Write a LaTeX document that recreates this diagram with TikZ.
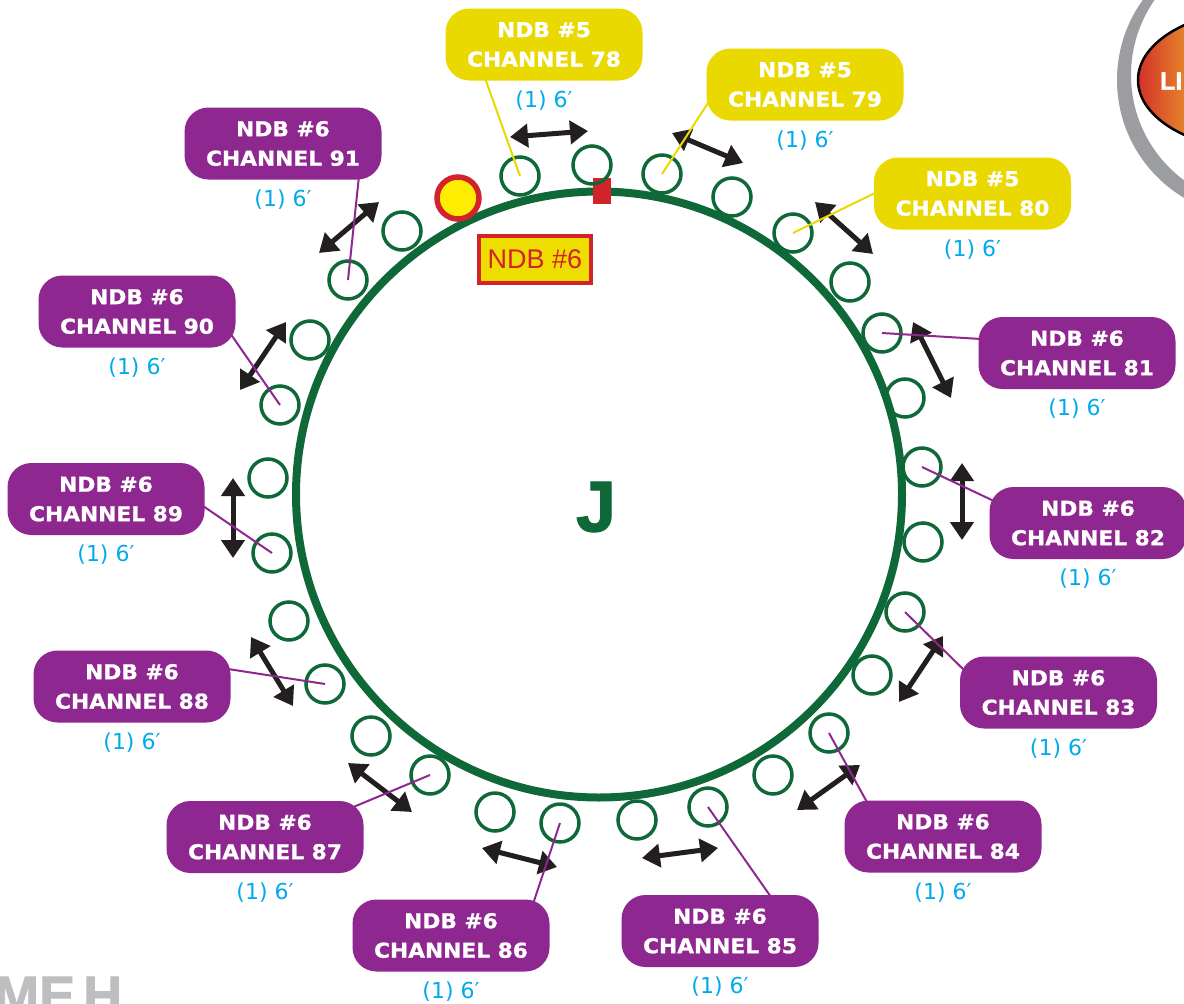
\documentclass[tikz,border=0pt]{standalone}
\usepackage{fontspec}
\setmainfont{DejaVu Sans}
\newfontfamily\lblfont[FakeStretch=1.06,FakeBold=1]{DejaVu Sans}
\newfontfamily\libsans{Liberation Sans}
\newfontfamily\heavysans[FakeBold=1.5]{Liberation Sans}
\usetikzlibrary{arrows.meta}
\definecolor{ndbpurple}{RGB}{142,39,143}
\definecolor{ndbyellow}{RGB}{233,217,0}
\definecolor{lenblue}{RGB}{0,170,235}
\definecolor{ringgreen}{RGB}{14,104,55}
\definecolor{ndbred}{RGB}{210,35,42}
\definecolor{dotyellow}{RGB}{255,237,0}
\definecolor{boxyellow}{RGB}{238,222,0}
\definecolor{arrowblack}{RGB}{35,31,32}
\definecolor{logogray}{RGB}{155,157,160}
\definecolor{footgray}{RGB}{188,190,192}
\definecolor{logored}{RGB}{210,45,42}
\definecolor{logoorange}{RGB}{232,140,42}
\begin{document}
\begin{tikzpicture}[x=1pt,y=-1pt,
  chbox/.style={rounded corners=24pt, minimum width=197pt, minimum height=72pt, inner sep=0pt, align=center, text=white, font=\lblfont\bfseries\fontsize{20.5}{29.5}\selectfont},
  ndbsix/.style={chbox, fill=ndbpurple},
  ndbfive/.style={chbox, fill=ndbyellow},
  lenlbl/.style={text=lenblue, inner sep=0pt, font=\fontsize{22}{26}\selectfont},
  ringc/.style={circle, draw=ringgreen, line width=3.5pt, minimum size=38pt, inner sep=0pt},
  spacing/.style={{Triangle[length=18pt,width=23pt]}-{Triangle[length=18pt,width=23pt]}, line width=5pt, draw=arrowblack},
  leadsix/.style={draw=ndbpurple, line width=2pt},
  leadfive/.style={draw=ndbyellow, line width=2pt}]
\useasboundingbox (0,0) rectangle (1184,1004);
\clip (0,0) rectangle (1184,1004);
\fill[white] (0,0) rectangle (1184,1004);

% main ring
\node[circle, draw=ringgreen, line width=8pt, minimum size=606pt, inner sep=0pt] (ring) at (599,494.5) {};
\node[text=ringgreen, inner sep=0pt, font=\heavysans\bfseries\fontsize{72}{72}\selectfont] (jlbl) at (596,507) {J};

% marker dot, red square, NDB #6 tag
\node[circle, fill=dotyellow, draw=ndbred, line width=5.5pt, minimum size=42pt, inner sep=0pt] (dot) at (458,198) {};
\node[fill=ndbred, minimum width=18pt, minimum height=26pt, inner sep=0pt] (sq) at (602,191) {};
\node[draw=ndbred, fill=boxyellow, line width=4pt, minimum width=112pt, minimum height=47pt, inner sep=0pt, text=ndbred, font=\libsans\fontsize{27}{30}\selectfont] (ndbtag) at (535,259.5) {NDB \#6};

% small rings
\foreach \n/\ax/\ay/\bx/\by in {
 78/520/176/592/165, 79/662/174/732/197, 80/793/233/850/282,
 81/882/333/905/398, 82/922/467/923/542, 83/905/612/872/675,
 84/829/733/773/775, 85/708/807/637/820, 86/560/823/495/812,
 87/430/775/371/736, 88/325/684/289/621, 89/272/553/268/478,
 90/280/405/310/340, 91/348/280/402/231}{
  \node[ringc] (c\n-a) at (\ax,\ay) {};
  \node[ringc] (c\n-b) at (\bx,\by) {};
}

% spacing arrows
\foreach \n/\ax/\ay/\bx/\by in {
 78/510/137/588/131, 79/672/133/743/163, 80/815/202/873/254,
 81/913/322/951/398, 82/962/463/962/540, 83/943/636/899/702,
 84/860/765/797/810, 85/642/858/718/848, 86/482/848/557/867,
 87/348/763/412/812, 88/251/637/293/706, 89/233/478/233/558,
 90/286/322/240/390, 91/379/202/319/253}{
  \coordinate (s\n-a) at (\ax,\ay);
  \coordinate (s\n-b) at (\bx,\by);
  \draw[spacing] (s\n-a) -- (s\n-b);
}

% leader lines
\foreach \n/\lx/\ly/\st in {
 78/485/78/leadfive, 79/708/103/leadfive, 80/875/193/leadfive,
 81/981/339/leadsix, 82/996/502/leadsix, 83/966/672/leadsix,
 84/868/804/leadsix, 85/771/897/leadsix, 86/533/904/leadsix,
 87/351/808/leadsix, 88/228/669/leadsix, 89/203/506/leadsix,
 90/230/333/leadsix, 91/359/176/leadsix}{
  \coordinate (l\n) at (\lx,\ly);
  \draw[\st] (l\n) -- (c\n-a.center);
}

% channel boxes and lengths
\foreach \n/\bx/\by/\st/\k in {
 78/544/44.5/ndbfive/5, 79/805/84.5/ndbfive/5, 80/972.5/193.5/ndbfive/5,
 81/1077/353/ndbsix/6, 82/1088/523/ndbsix/6, 83/1058.5/692.5/ndbsix/6,
 84/943/836.5/ndbsix/6, 85/720/931/ndbsix/6, 86/451/935.5/ndbsix/6,
 87/265/837/ndbsix/6, 88/132/686.5/ndbsix/6, 89/106/499/ndbsix/6,
 90/137/311.5/ndbsix/6, 91/283/143.5/ndbsix/6}{
  \node[\st] (b\n) at (\bx,\by) {NDB \#\k\\CHANNEL \n};
  \node[lenlbl] (len\n) at (\bx,\by+56) {(1) 6′};
}

% partial logo, top right
\fill[logogray, even odd rule] (1254,80) circle (137pt) (1262,75) circle (131pt);
\begin{scope}
  \clip (1260,80) ellipse (122pt and 70pt);
  \shade[left color=logored, right color=logoorange] (1136,0) rectangle (1190,160);
\end{scope}
\draw[black, line width=2.5pt] (1260,80) ellipse (122pt and 70pt);
\node[anchor=west, inner sep=0pt, text=white, font=\heavysans\bfseries\fontsize{25}{25}\selectfont] (logotxt) at (1160,81) {LI};

% partial footer text, bottom left
\node[anchor=base west, inner sep=0pt, text=footgray, font=\heavysans\bfseries\fontsize{54}{54}\selectfont] (foot) at (-6,1014) {ME\hspace{8pt}H};
\end{tikzpicture}
\end{document}
